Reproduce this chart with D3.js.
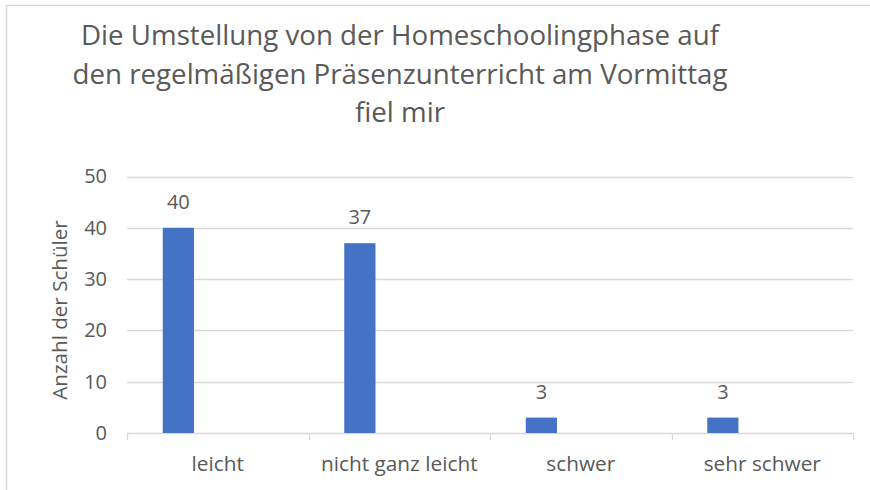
<!DOCTYPE html>
<html><head><meta charset="utf-8">
<script src="https://cdn.jsdelivr.net/npm/d3@7"></script>
<style>
html,body{margin:0;padding:0;background:#fff;}
svg{display:block;font-family:"Open Sans",sans-serif;}
</style></head>
<body>
<svg id="chart" width="870" height="490"></svg>
<script>
const titleLines = ["Die Umstellung von der Homeschoolingphase auf", "den regelmäßigen Präsenzunterricht am Vormittag", "fiel mir"];
const categories = ["leicht", "nicht ganz leicht", "schwer", "sehr schwer"];
const values = [40, 37, 3, 3];
const yTicks = [0, 10, 20, 30, 40, 50];
const yLabel = "Anzahl der Schüler";

const svg = d3.select("#chart");
const textColor = "#595959", gridColor = "#d9d9d9", barColor = "#4472C4";

// chart frame
svg.append("rect").attr("x", 6.5).attr("y", 5.5).attr("width", 900).attr("height", 600)
  .attr("fill", "none").attr("stroke", gridColor).attr("stroke-width", 1.5);

const x = d3.scaleBand().domain(categories).range([127, 853]).padding(0);
const y = d3.scaleLinear().domain([0, 50]).range([433, 176.5]);

// title
svg.append("g").selectAll("text").data(titleLines).join("text")
  .attr("x", 400).attr("y", (d, i) => 45 + i * 38.5)
  .attr("text-anchor", "middle").attr("fill", textColor)
  .style("font-size", "27.7px").text(d => d);

// gridlines
svg.append("g").selectAll("line").data(yTicks.filter(t => t > 0)).join("line")
  .attr("x1", 127).attr("x2", 853)
  .attr("y1", d => Math.round(y(d)) + 0.5).attr("y2", d => Math.round(y(d)) + 0.5)
  .attr("stroke", gridColor).attr("stroke-width", 1.3);

// y axis labels
const yAxis = d3.axisLeft(y).tickValues(yTicks).tickSize(0).tickPadding(20);
const gy = svg.append("g").attr("transform", "translate(127,0)").call(yAxis);
gy.select(".domain").remove();
gy.selectAll("text").attr("fill", textColor).style("font-size", "20px")
  .style("font-family", "'Open Sans',sans-serif");

// x axis
const xAxis = d3.axisBottom(x).tickSize(0).tickPadding(23);
const gx = svg.append("g").attr("transform", "translate(0,433.5)").call(xAxis);
gx.select(".domain").attr("stroke", gridColor).attr("stroke-width", 1.3).attr("d", "M127,0H853");
gx.selectAll("text").attr("fill", textColor).style("font-size", "20.8px")
  .style("font-family", "'Open Sans',sans-serif");
// category boundary ticks
const bounds = categories.map(c => x(c)).concat([x.range()[1]]);
svg.append("g").selectAll("line").data(bounds).join("line")
  .attr("x1", d => Math.round(d) + 0.5).attr("x2", d => Math.round(d) + 0.5)
  .attr("y1", 433).attr("y2", 440)
  .attr("stroke", gridColor).attr("stroke-width", 1.3);

// bars
const bw = x.bandwidth();
const bars = categories.map((c, i) => ({c, v: values[i]}));
svg.append("g").selectAll("rect").data(bars).join("rect")
  .attr("x", d => x(d.c) + bw * 0.197).attr("width", bw * 0.172)
  .attr("y", d => y(d.v)).attr("height", d => y(0) - y(d.v))
  .attr("fill", barColor);

// data labels
svg.append("g").selectAll("text").data(bars).join("text")
  .attr("x", d => x(d.c) + bw * 0.197 + bw * 0.086)
  .attr("y", d => y(d.v) - 19)
  .attr("text-anchor", "middle").attr("fill", textColor)
  .style("font-size", "20px").text(d => d.v);

// y axis title
svg.append("text").attr("transform", "translate(67,310) rotate(-90)")
  .attr("text-anchor", "middle").attr("fill", textColor)
  .style("font-size", "20.6px").text(yLabel);
</script>
</body></html>
